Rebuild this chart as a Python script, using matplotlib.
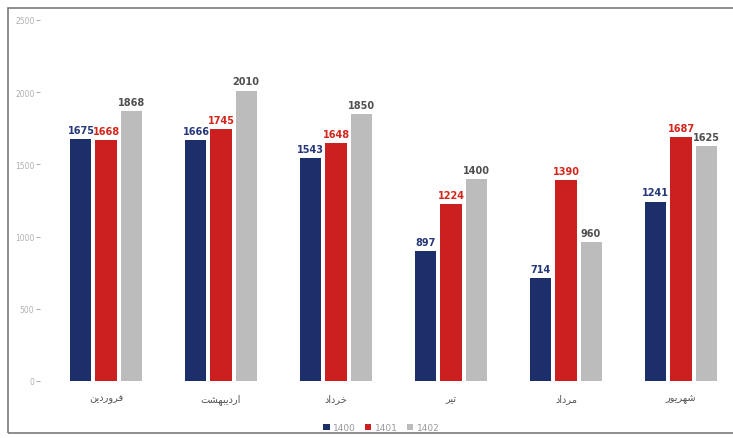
import matplotlib
matplotlib.use("Agg")
import matplotlib.pyplot as plt
import numpy as np
from matplotlib.patches import Rectangle

# data
months = ["فروردین", "اردیبهشت", "خرداد", "تیر", "مرداد", "شهریور"]
years = ["1400", "1401", "1402"]
v1400 = [1675, 1666, 1543, 897, 714, 1241]
v1401 = [1668, 1745, 1648, 1224, 1390, 1687]
v1402 = [1868, 2010, 1850, 1400, 960, 1625]
y_ticks = [0, 500, 1000, 1500, 2000, 2500]

bar_colors = ["#1d2f6b", "#cc1f1f", "#bcbcbc"]
label_colors = ["#26377a", "#d3261c", "#4f4f4f"]

# minimal persian shaping: (isolated, final, initial, medial)
FORMS = {
    "ا": ("\uFE8D", "\uFE8E", None, None),
    "ب": ("\uFE8F", "\uFE90", "\uFE91", "\uFE92"),
    "ت": ("\uFE95", "\uFE96", "\uFE97", "\uFE98"),
    "خ": ("\uFEA5", "\uFEA6", "\uFEA7", "\uFEA8"),
    "د": ("\uFEA9", "\uFEAA", None, None),
    "ر": ("\uFEAD", "\uFEAE", None, None),
    "ش": ("\uFEB5", "\uFEB6", "\uFEB7", "\uFEB8"),
    "ف": ("\uFED1", "\uFED2", "\uFED3", "\uFED4"),
    "م": ("\uFEE1", "\uFEE2", "\uFEE3", "\uFEE4"),
    "ن": ("\uFEE5", "\uFEE6", "\uFEE7", "\uFEE8"),
    "ه": ("\uFEE9", "\uFEEA", "\uFEEB", "\uFEEC"),
    "و": ("\uFEED", "\uFEEE", None, None),
    "ی": ("\uFBFC", "\uFBFD", "\uFBFE", "\uFBFF"),
}


def shape(word):
    out = []
    for i, ch in enumerate(word):
        iso, fin, ini, med = FORMS[ch]
        prev_joins = i > 0 and FORMS[word[i - 1]][2] is not None
        next_exists = i < len(word) - 1
        can_join_next = ini is not None and next_exists
        if prev_joins and can_join_next:
            out.append(med)
        elif prev_joins:
            out.append(fin)
        elif can_join_next:
            out.append(ini)
        else:
            out.append(iso)
    return "".join(reversed(out))


fig = plt.figure(figsize=(7.33, 4.39), dpi=100)
ax = fig.add_axes([40 / 733, 1 - 382 / 439, 687 / 733, 361 / 439])

x = np.arange(len(months))
step = 0.218
width = 0.183
series = [v1400, v1401, v1402]
for i, vals in enumerate(series):
    pos = x + (i - 1) * step
    bars = ax.bar(pos, vals, width=width, color=bar_colors[i], label=years[i], zorder=2)
    for b, v in zip(bars, vals):
        ax.text(b.get_x() + b.get_width() / 2, v + 30, str(v), ha="center", va="bottom",
                fontsize=7, fontweight="bold", color=label_colors[i])

ax.set_xlim(-0.574, 5.4)
ax.set_ylim(0, 2500)
ax.set_yticks(y_ticks)
ax.set_yticklabels([str(t) for t in y_ticks])
ax.set_xticks(x)
ax.set_xticklabels([shape(m) for m in months], fontsize=7, color="#555555",
                   family="DejaVu Sans")
ax.tick_params(axis="x", length=0, pad=9)
ax.tick_params(axis="y", length=3, pad=1, labelsize=5.5, colors="#b0b0b0")
for s in ax.spines.values():
    s.set_visible(False)

leg = ax.legend(loc="lower center", bbox_to_anchor=(0.497, -0.165), ncol=3, frameon=False,
                fontsize=6.5, handlelength=0.7, handleheight=0.7, handletextpad=0.4,
                columnspacing=1.0)
for t in leg.get_texts():
    t.set_color("#9a9a9a")

# picture frame around the chart
fig.patches.append(Rectangle((8 / 733, 1 - 434 / 439), 740 / 733, 425 / 439,
                             transform=fig.transFigure, fill=False,
                             edgecolor="#7a7a7a", linewidth=1.2))

fig.savefig("out.png", dpi=100)
